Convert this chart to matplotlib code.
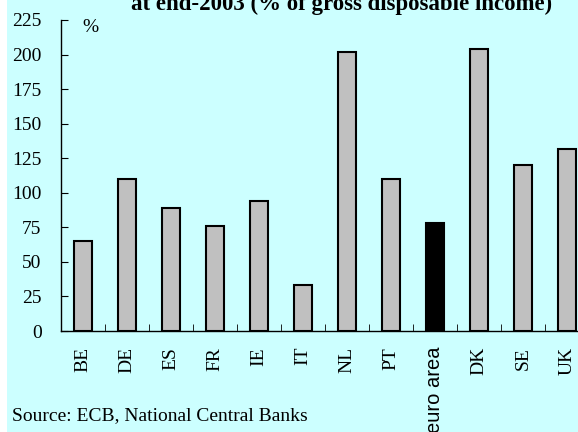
import matplotlib.pyplot as plt
from matplotlib.patches import Rectangle

countries = ["BE", "DE", "ES", "FR", "IE", "IT", "NL", "PT", "euro area", "DK", "SE", "UK"]
debt = [65, 110, 89, 76, 94, 33, 202, 110, 78, 204, 120, 132]
colors = ["#c0c0c0"] * 8 + ["black"] + ["#c0c0c0"] * 3
yticks = [0, 25, 50, 75, 100, 125, 150, 175, 200, 225]

plt.rcParams["font.family"] = ["Liberation Serif", "DejaVu Serif"]
plt.rcParams["font.size"] = 14

W, H = 578, 432
fig = plt.figure(figsize=(W / 100, H / 100), dpi=100)
fig.patch.set_facecolor("#ccffff")
# white strip on the left edge
fig.patches.append(Rectangle((0, 0), 7 / W, 1, transform=fig.transFigure,
                             facecolor="white", edgecolor="none", zorder=-1))

ax = fig.add_axes([61 / W, (H - 331) / H, (W - 61) / W, 311 / H])
ax.set_facecolor("none")
x = range(len(countries))
ax.bar(x, debt, width=0.43, color=colors, edgecolor="black", linewidth=1.5, zorder=3)

ax.set_xlim(-0.5, -0.5 + (W - 61) / 44)
ax.set_ylim(0, 225)
ax.set_yticks(yticks)
ax.tick_params(axis="y", direction="in", length=5, pad=14, labelsize=14)
ax.set_xticks(list(x))
ax.set_xticklabels(countries, rotation=90, va="top", ha="center")
ax.tick_params(axis="x", length=0, pad=11.5, labelsize=14)
ax.set_xticks([i + 0.5 for i in range(len(countries) - 1)], minor=True)
ax.tick_params(axis="x", which="minor", direction="in", length=5)
# the euro area label is set in a sans font in the original
for lab in ax.get_xticklabels():
    if lab.get_text() == "euro area":
        lab.set_family(["Liberation Sans", "DejaVu Sans"])
        lab.set_fontsize(14.5)
for s in ["top", "right"]:
    ax.spines[s].set_visible(False)
for s in ["left", "bottom"]:
    ax.spines[s].set_linewidth(1.0)

ax.text(82 / W, (H - 27) / H, "%", transform=fig.transFigure,
        fontsize=14, va="center", ha="left")

fig.text(342 / W, (H - 10) / H, "at end-2003 (% of gross disposable income)",
         ha="center", va="baseline", fontsize=16.5, fontweight="bold")
fig.text(12 / W, (H - 420) / H, "Source: ECB, National Central Banks",
         ha="left", va="baseline", fontsize=14)

fig.savefig("out.png", dpi=100, facecolor=fig.get_facecolor())
